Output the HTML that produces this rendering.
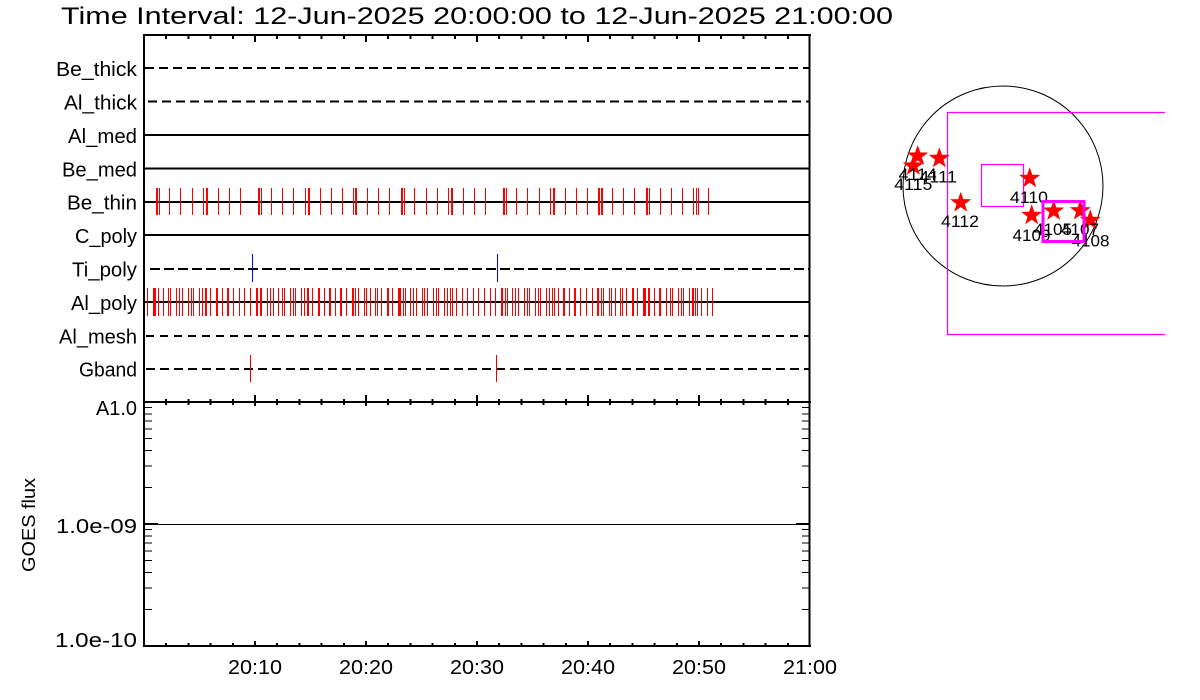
<!DOCTYPE html>
<html><head><meta charset="utf-8"><style>
html,body{margin:0;padding:0;background:#fff;}
svg{display:block;}
text{font-family:"Liberation Sans",sans-serif;fill:#000;}
</style></head><body>
<svg width="1200" height="700" viewBox="0 0 1200 700" xmlns="http://www.w3.org/2000/svg">
<rect width="1200" height="700" fill="#fff"/>
<text x="61" y="24" font-size="24" textLength="832" lengthAdjust="spacingAndGlyphs">Time Interval: 12-Jun-2025 20:00:00 to 12-Jun-2025 21:00:00</text>

<g font-size="20" text-anchor="end">
<text x="137" y="76" textLength="81" lengthAdjust="spacingAndGlyphs">Be_thick</text>
<text x="137" y="109.5" textLength="73" lengthAdjust="spacingAndGlyphs">Al_thick</text>
<text x="137" y="143" textLength="69" lengthAdjust="spacingAndGlyphs">Al_med</text>
<text x="137" y="176.5" textLength="75" lengthAdjust="spacingAndGlyphs">Be_med</text>
<text x="137" y="209.5" textLength="70" lengthAdjust="spacingAndGlyphs">Be_thin</text>
<text x="137" y="243" textLength="62" lengthAdjust="spacingAndGlyphs">C_poly</text>
<text x="137" y="276.5" textLength="65" lengthAdjust="spacingAndGlyphs">Ti_poly</text>
<text x="137" y="310" textLength="66" lengthAdjust="spacingAndGlyphs">Al_poly</text>
<text x="137" y="343.5" textLength="78" lengthAdjust="spacingAndGlyphs">Al_mesh</text>
<text x="137" y="376.5" textLength="58" lengthAdjust="spacingAndGlyphs">Gband</text>
</g>

<g stroke="#000" stroke-width="2" shape-rendering="crispEdges">
<line x1="145" y1="68" x2="809" y2="68" stroke-dasharray="9,5"/>
<line x1="148" y1="101.5" x2="809" y2="101.5" stroke-dasharray="9,5"/>
<line x1="145" y1="135" x2="809" y2="135"/>
<line x1="145" y1="168.5" x2="809" y2="168.5"/>
<line x1="145" y1="202" x2="809" y2="202"/>
<line x1="145" y1="235" x2="809" y2="235"/>
<line x1="150" y1="269" x2="809" y2="269" stroke-dasharray="10,4"/>
<line x1="145" y1="302" x2="809" y2="302"/>
<line x1="146" y1="336" x2="809" y2="336" stroke-dasharray="8,6"/>
<line x1="146" y1="369" x2="809" y2="369" stroke-dasharray="9,5"/>
</g>

<g stroke="#ff0000" fill="none" shape-rendering="crispEdges">
<path stroke-width="1" d="M144.5 188v27M159.5 188v27M169.5 188v27M180.5 188v27M192.5 188v27M203.5 188v27M218.5 188v27M229.5 188v27M240.5 188v27M261.5 188v27M271.5 188v27M282.5 188v27M293.5 188v27M305.5 188v27M320.5 188v27M331.5 188v27M342.5 188v27M353.5 188v27M367.5 188v27M378.5 188v27M389.5 188v27M404.5 188v27M414.5 188v27M426.5 188v27M437.5 188v27M448.5 188v27M463.5 188v27M474.5 188v27M485.5 188v27M506.5 188v27M516.5 188v27M527.5 188v27M539.5 188v27M550.5 188v27M565.5 188v27M576.5 188v27M587.5 188v27M612.5 188v27M623.5 188v27M634.5 188v27M649.5 188v27M660.5 188v27M671.5 188v27M682.5 188v27M693.5 188v27M696.5 188v27M698.5 188v27M708.5 188v27"/>
<path stroke-width="2" d="M157 188v27M207 188v27M259 188v27M309 188v27M356 188v27M402 188v27M452 188v27M504 188v27M554 188v27M599 188v27M602 188v27M647 188v27"/>
<path stroke-width="1" d="M147.5 288v28M158.5 288v28M163.5 288v28M168.5 288v28M170.5 288v28M176.5 288v28M179.5 288v28M182.5 288v28M188.5 288v28M191.5 288v28M193.5 288v28M199.5 288v28M202.5 288v28M210.5 288v28M222.5 288v28M233.5 288v28M239.5 288v28M244.5 288v28M250.5 288v28M267.5 288v28M270.5 288v28M273.5 288v28M278.5 288v28M282.5 288v28M284.5 288v28M290.5 288v28M293.5 288v28M295.5 288v28M301.5 288v28M304.5 288v28M312.5 288v28M324.5 288v28M335.5 288v28M346.5 288v28M355.5 288v28M358.5 288v28M364.5 288v28M366.5 288v28M370.5 288v28M375.5 288v28M377.5 288v28M381.5 288v28M392.5 288v28M403.5 288v28M405.5 288v28M410.5 288v28M413.5 288v28M416.5 288v28M422.5 288v28M424.5 288v28M427.5 288v28M433.5 288v28M436.5 288v28M438.5 288v28M444.5 288v28M447.5 288v28M450.5 288v28M452.5 288v28M456.5 288v28M462.5 288v28M467.5 288v28M473.5 288v28M478.5 288v28M484.5 288v28M490.5 288v28M495.5 288v28M505.5 288v28M507.5 288v28M512.5 288v28M515.5 288v28M518.5 288v28M524.5 288v28M527.5 288v28M529.5 288v28M535.5 288v28M538.5 288v28M540.5 288v28M546.5 288v28M549.5 288v28M552.5 288v28M554.5 288v28M558.5 288v28M569.5 288v28M580.5 288v28M586.5 288v28M592.5 288v28M601.5 288v28M603.5 288v28M609.5 288v28M611.5 288v28M615.5 288v28M620.5 288v28M622.5 288v28M626.5 288v28M637.5 288v28M654.5 288v28M666.5 288v28M670.5 288v28M672.5 288v28M678.5 288v28M681.5 288v28M683.5 288v28M689.5 288v28M695.5 288v28M697.5 288v28M701.5 288v28M707.5 288v28M712.5 288v28"/>
<path stroke-width="2" d="M206 288v28M217 288v28M228 288v28M257 288v28M261 288v28M308 288v28M319 288v28M330 288v28M341 288v28M353 288v28M388 288v28M502 288v28M564 288v28M575 288v28M598 288v28M633 288v28M649 288v28M660 288v28M693 288v28"/>
<path stroke-width="3" d="M154.5 288v28M399.5 288v28M644.5 288v28"/>
</g>

<g shape-rendering="crispEdges">
<rect x="252" y="254" width="1" height="28" fill="#0000ff"/>
<rect x="497" y="254" width="1" height="28" fill="#0000ff"/>
<rect x="250" y="355" width="1" height="27" fill="#e00000"/>
<rect x="496" y="355" width="1" height="27" fill="#e00000"/>
</g>

<g stroke="#000" stroke-width="2" shape-rendering="crispEdges" fill="none">
<line x1="144" y1="34" x2="144" y2="647"/>
<line x1="809.5" y1="34" x2="809.5" y2="647"/>
<line x1="143" y1="35" x2="811" y2="35"/>
<line x1="143" y1="402" x2="811" y2="402"/>
<line x1="143" y1="646" x2="811" y2="646"/>
</g>

<g stroke="#000" stroke-width="2" shape-rendering="crispEdges">
<path d="M166.2 35V39M188.4 35V39M210.6 35V39M232.8 35V39M277.2 35V39M299.4 35V39M321.6 35V39M343.8 35V39M388.2 35V39M410.4 35V39M432.6 35V39M454.8 35V39M499.2 35V39M521.4 35V39M543.6 35V39M565.8 35V39M610.2 35V39M632.4 35V39M654.6 35V39M676.8 35V39M721.2 35V39M743.4 35V39M765.6 35V39M787.8 35V39"/>
<path d="M255 35V42M366 35V42M477 35V42M588 35V42M699 35V42"/>
<path d="M166.2 399V405M188.4 399V405M210.6 399V405M232.8 399V405M277.2 399V405M299.4 399V405M321.6 399V405M343.8 399V405M388.2 399V405M410.4 399V405M432.6 399V405M454.8 399V405M499.2 399V405M521.4 399V405M543.6 399V405M565.8 399V405M610.2 399V405M632.4 399V405M654.6 399V405M676.8 399V405M721.2 399V405M743.4 399V405M765.6 399V405M787.8 399V405"/>
<path d="M255 395V406M366 395V406M477 395V406M588 395V406M699 395V406"/>
<path d="M166.2 643V646M188.4 643V646M210.6 643V646M232.8 643V646M277.2 643V646M299.4 643V646M321.6 643V646M343.8 643V646M388.2 643V646M410.4 643V646M432.6 643V646M454.8 643V646M499.2 643V646M521.4 643V646M543.6 643V646M565.8 643V646M610.2 643V646M632.4 643V646M654.6 643V646M676.8 643V646M721.2 643V646M743.4 643V646M765.6 643V646M787.8 643V646"/>
<path d="M255 641V646M366 641V646M477 641V646M588 641V646M699 641V646"/>
</g>

<g stroke="#000" stroke-width="1" shape-rendering="crispEdges">
<path d="M145 609.5H152M145 588H152M145 572.5H152M145 560.5H152M145 551H152M145 543H152M145 536H152M145 529.5H152M145 487.5H152M145 466H152M145 450.5H152M145 438.5H152M145 429H152M145 421H152M145 414H152M145 407.5H152"/>
<path d="M802 609.5H809M802 588H809M802 572.5H809M802 560.5H809M802 551H809M802 543H809M802 536H809M802 529.5H809M802 487.5H809M802 466H809M802 450.5H809M802 438.5H809M802 429H809M802 421H809M802 414H809M802 407.5H809"/>
<line x1="144" y1="524.5" x2="810" y2="524.5"/>
</g>
<g stroke="#000" stroke-width="2" shape-rendering="crispEdges">
<line x1="144" y1="524" x2="158" y2="524"/>
<line x1="796" y1="524" x2="810" y2="524"/>
</g>

<g font-size="20" text-anchor="end">
<text x="137" y="415" textLength="41" lengthAdjust="spacingAndGlyphs">A1.0</text>
<text x="137" y="533" textLength="81" lengthAdjust="spacingAndGlyphs">1.0e-09</text>
<text x="137" y="647" textLength="82" lengthAdjust="spacingAndGlyphs">1.0e-10</text>
</g>
<text transform="translate(35,525) rotate(-90)" font-size="18" text-anchor="middle" textLength="94" lengthAdjust="spacingAndGlyphs">GOES flux</text>

<g font-size="20" text-anchor="middle">
<text x="255" y="674" textLength="54" lengthAdjust="spacingAndGlyphs">20:10</text>
<text x="366" y="674" textLength="54" lengthAdjust="spacingAndGlyphs">20:20</text>
<text x="477" y="674" textLength="54" lengthAdjust="spacingAndGlyphs">20:30</text>
<text x="588" y="674" textLength="54" lengthAdjust="spacingAndGlyphs">20:40</text>
<text x="699" y="674" textLength="54" lengthAdjust="spacingAndGlyphs">20:50</text>
<text x="810" y="674" textLength="54" lengthAdjust="spacingAndGlyphs">21:00</text>
</g>

<circle cx="1003" cy="186" r="100" fill="none" stroke="#000" stroke-width="1"/>
<polyline points="1165,112.5 947.5,112.5 947.5,334.5 1165,334.5" fill="none" stroke="#ff00ff" stroke-width="1.2"/>
<rect x="981.5" y="164.5" width="42" height="42" fill="none" stroke="#ff00ff" stroke-width="1.2"/>

<defs>
<polygon id="st" points="0,-11 2.6,-3.6 10.5,-3.4 4.2,1.4 6.5,8.9 0,4.4 -6.5,8.9 -4.2,1.4 -10.5,-3.4 -2.6,-3.6"/>
</defs>
<g fill="#ff0000">
<use href="#st" x="917.7" y="156"/>
<use href="#st" x="913.3" y="166"/>
<use href="#st" x="939.3" y="158.3"/>
<use href="#st" x="960.7" y="202.7"/>
<use href="#st" x="1029.7" y="178.3"/>
<use href="#st" x="1031.7" y="215.3"/>
<use href="#st" x="1053.7" y="211"/>
<use href="#st" x="1080.3" y="210.7"/>
<use href="#st" x="1090.3" y="220.3"/>
</g>
<g font-size="17">
<text x="898.7" y="180" textLength="38" lengthAdjust="spacingAndGlyphs">4114</text>
<text x="894.3" y="190" textLength="38" lengthAdjust="spacingAndGlyphs">4115</text>
<text x="919" y="182.3" textLength="38" lengthAdjust="spacingAndGlyphs">4111</text>
<text x="941" y="227" textLength="38" lengthAdjust="spacingAndGlyphs">4112</text>
<text x="1010" y="203" textLength="38" lengthAdjust="spacingAndGlyphs">4110</text>
<text x="1012.5" y="241" textLength="38" lengthAdjust="spacingAndGlyphs">4109</text>
<text x="1034" y="235" textLength="38" lengthAdjust="spacingAndGlyphs">4105</text>
<text x="1061" y="235" textLength="38" lengthAdjust="spacingAndGlyphs">4107</text>
<text x="1071.5" y="246.5" textLength="38" lengthAdjust="spacingAndGlyphs">4108</text>
</g>
<rect x="1043" y="201.5" width="41" height="40" fill="none" stroke="#ff00ff" stroke-width="3"/>
</svg>
</body></html>
